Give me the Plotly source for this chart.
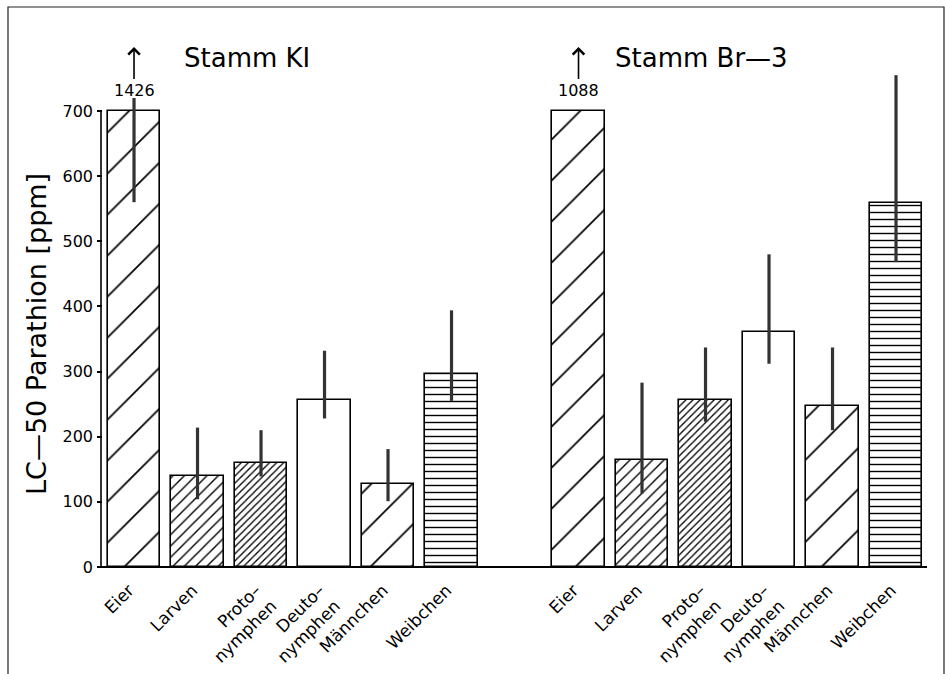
import plotly.graph_objects as go

# Life stages of the mite and the two strains tested
stages = ["Eier", "Larven", "Proto–<br>nymphen", "Deuto–<br>nymphen", "Männchen", "Weibchen"]
strain_titles = ["Stamm KI", "Stamm Br—3"]

# LC-50 of parathion [ppm] with confidence limits, strain KI
lc50_ki = [1426, 139, 160, 257, 127, 297]
ci_low_ki = [560, 104, 139, 228, 101, 255]
ci_high_ki = [720, 214, 210, 332, 181, 394]

# LC-50 of parathion [ppm] with confidence limits, strain Br-3
lc50_br3 = [1088, 164, 257, 361, 247, 559]
ci_low_br3 = [None, 113, 223, 312, 210, 468]
ci_high_br3 = [None, 283, 337, 480, 337, 755]

y_ticks = [0, 100, 200, 300, 400, 500, 600, 700]
y_cap = 700  # bars above this are cut off and labelled with their value

# hatching per life stage
hatch_shape = ["/", "/", "/", "", "/", "-"]
hatch_size = [29, 8, 5, 8, 29, 7]
hatch_solidity = [0.06, 0.17, 0.26, 0.2, 0.06, 0.2]

# page geometry
FIG_W, FIG_H = 945, 674
M_L, M_R, M_T, M_B = 97, 18, 20, 100
PW, PH = FIG_W - M_L - M_R, FIG_H - M_T - M_B


def px_x(px):
    return (px - M_L) / PW


def px_y(py):
    return (FIG_H - M_B - py) / PH


PX_PER_UNIT = 456 / 700
Y_RANGE = [-(FIG_H - M_B - 567) / PX_PER_UNIT, (567 - M_T) / PX_PER_UNIT]
X_RANGE = [-0.583, 12.488]

n = len(stages)
gap = 1
groups = [
    (list(range(n)), lc50_ki, ci_low_ki, ci_high_ki),
    ([i + n + gap for i in range(n)], lc50_br3, ci_low_br3, ci_high_br3),
]

fig = go.Figure()
for xs, vals, lo, hi in groups:
    shown = [min(v, y_cap) for v in vals]
    plus = [h - s if h is not None else float("nan") for s, h in zip(shown, hi)]
    minus = [s - l if l is not None else float("nan") for s, l in zip(shown, lo)]
    fig.add_trace(go.Bar(
        x=xs, y=shown, width=0.82,
        marker=dict(
            color="white",
            line=dict(color="black", width=1.6),
            pattern=dict(shape=hatch_shape, size=hatch_size, solidity=hatch_solidity,
                         fgcolor="black", fgopacity=1, bgcolor="white",
                         fillmode="replace"),
        ),
        error_y=dict(type="data", symmetric=False, array=plus, arrayminus=minus,
                     width=0, thickness=3.2, color="#333333"),
        showlegend=False, hoverinfo="skip",
    ))

tick_x = groups[0][0] + groups[1][0]
tick_text = stages + stages

annotations = []
# strain headings
for (xs, vals, lo, hi), title, left_px in zip(groups, strain_titles, [182, 613]):
    annotations.append(dict(
        text=title, xref="paper", yref="paper", x=px_x(left_px), y=px_y(58),
        xanchor="left", yanchor="middle", showarrow=False,
        font=dict(size=26, family="DejaVu Sans", color="black"),
    ))
    # values of the cut-off bars with an upward arrow
    for x, v in zip(xs, vals):
        if v > y_cap:
            annotations.append(dict(
                text=str(v), xref="x", yref="paper", x=x, y=px_y(47),
                ax=0, ay=43, axref="pixel", ayref="pixel",
                showarrow=True, arrowhead=4, arrowsize=1.4, arrowwidth=1.6,
                arrowcolor="black", standoff=0, startstandoff=0,
                font=dict(size=16, family="DejaVu Sans", color="black"),
            ))

# y axis title
annotations.append(dict(
    text="LC—50 Parathion [ppm]", xref="paper", yref="paper",
    x=px_x(36), y=px_y(334), textangle=-90, showarrow=False,
    xanchor="center", yanchor="middle",
    font=dict(size=27, family="DejaVu Sans", color="black"),
))

shapes = [
    # y axis line, only up to the cut-off value
    dict(type="line", xref="x", yref="y", x0=-0.52, x1=-0.52, y0=0, y1=y_cap,
         line=dict(color="black", width=1.6)),
    # frame around the figure
    dict(type="rect", xref="paper", yref="paper",
         x0=px_x(8), x1=px_x(944), y0=px_y(690), y1=px_y(7),
         line=dict(color="#222222", width=1.2)),
]

fig.update_layout(
    width=FIG_W, height=FIG_H,
    margin=dict(l=M_L, r=M_R, t=M_T, b=M_B),
    paper_bgcolor="white", plot_bgcolor="white",
    font=dict(family="DejaVu Sans", color="black"),
    bargap=0,
    xaxis=dict(
        range=X_RANGE, tickmode="array", tickvals=tick_x, ticktext=tick_text,
        tickangle=-45, ticks="", showgrid=False, zeroline=False, showline=False,
        ticklabelshift=-5, ticklabelstandoff=2, automargin=False,
        tickfont=dict(size=17, family="DejaVu Sans", color="black"),
    ),
    yaxis=dict(
        range=Y_RANGE, tickmode="array", tickvals=y_ticks,
        ticks="inside", ticklen=5, tickwidth=1.5, tickcolor="black",
        ticklabelstandoff=3, automargin=False,
        showgrid=False, showline=False,
        zeroline=True, zerolinecolor="black", zerolinewidth=1.6,
        tickfont=dict(size=16, family="DejaVu Sans", color="black"),
    ),
    annotations=annotations,
    shapes=shapes,
)

fig.write_html("out.html")
